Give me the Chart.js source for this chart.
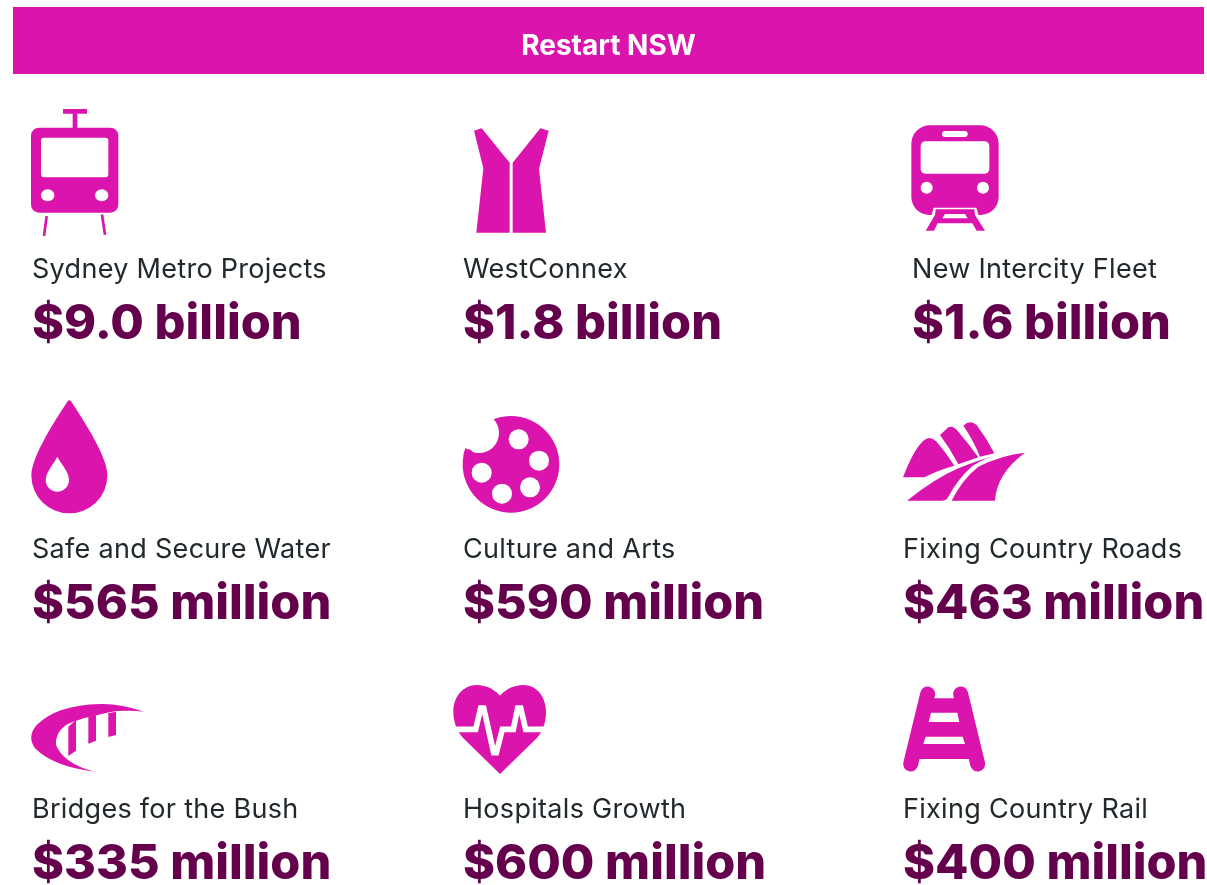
<!DOCTYPE html>
<html>
<head>
<meta charset="utf-8">
<title>Restart NSW</title>
<script src="https://cdn.jsdelivr.net/npm/chart.js@4/dist/chart.umd.min.js"></script>
<style>
  html, body { margin: 0; padding: 0; background: #fff; }
  canvas { display: block; }
</style>
</head>
<body>
<canvas id="restart" width="1207" height="885"></canvas>
<script>
const chartTitle = 'Restart NSW';
const projects = ['Sydney Metro Projects', 'WestConnex', 'New Intercity Fleet',
  'Safe and Secure Water', 'Culture and Arts', 'Fixing Country Roads',
  'Bridges for the Bush', 'Hospitals Growth', 'Fixing Country Rail'];
// $ million
const funding = [9000, 1800, 1600, 565, 590, 463, 335, 600, 400];
const columns = [0, 1, 2, 0, 1, 2, 0, 1, 2];
const rows = [0, 0, 0, 1, 1, 1, 2, 2, 2];

const PINK = '#db14ad';
const PLUM = '#65004d';
const INK = '#22292d';
const FONT = 'Inter, "Noto Sans", sans-serif';

// scale layout: pixel position of column 0 / row 0 and the distance between them
const COL0 = 32, COL_STEP = 435, ROW0 = 268, ROW_STEP = 270;
const AREA_LEFT = 10, AREA_TOP = 74;
// labels do not sit exactly on the even grid
const labelNudgeX = [0, -4, 10, 0, -4, 1, 0, -4, 1];
const labelNudgeY = [0, 0, 0, 10, 10, 10, 0, 0, 0];

function money(v) {
  return v >= 1000 ? '$' + (v / 1000).toFixed(1) + ' billion' : '$' + v + ' million';
}

function poly(c, pts, fill) {
  c.fillStyle = fill;
  c.beginPath();
  pts.forEach((p, i) => i ? c.lineTo(p[0], p[1]) : c.moveTo(p[0], p[1]));
  c.closePath();
  c.fill();
}
function box(c, x0, y0, x1, y1, r, fill) {
  c.fillStyle = fill;
  c.beginPath();
  c.roundRect(x0, y0, x1 - x0, y1 - y0, r);
  c.fill();
}
function disc(c, x, y, rx, ry, fill) {
  c.fillStyle = fill;
  c.beginPath();
  c.ellipse(x, y, rx, ry, 0, 0, Math.PI * 2);
  c.fill();
}

// icon shapes, each one traced in 3x coordinates of a crop starting at [cropX, cropY]
const icons = [
  { crop: [0, 90], paint(c) {
    box(c, 93, 113, 355, 368, 24, PINK);
    box(c, 123, 143, 325, 262, 9, '#fff');
    disc(c, 143, 316, 20, 18, '#fff');
    disc(c, 305, 316, 20, 18, '#fff');
    box(c, 189, 57, 261, 71, 1, PINK);
    box(c, 218, 70, 232, 114, 0, PINK);
    poly(c, [[136, 378], [144, 379], [136, 438], [128, 437]], PINK);
    poly(c, [[302, 374], [310, 373], [319, 434], [311, 435]], PINK);
  } },
  { crop: [450, 100], paint(c) {
    poly(c, [[72, 92], [95, 85], [179, 188], [179, 398], [79, 398], [100, 205]], PINK);
    poly(c, [[188, 188], [271, 85], [296, 92], [267, 207], [288, 398], [188, 398]], PINK);
  } },
  { crop: [895, 110], paint(c) {
    box(c, 49, 46, 311, 315, 55, PINK);
    box(c, 141, 63, 218, 81, 9, '#fff');
    box(c, 77, 94, 283, 191, 14, '#fff');
    disc(c, 95, 233, 18, 18, '#fff');
    disc(c, 264, 233, 18, 18, '#fff');
    poly(c, [[108, 320], [116, 293], [244, 293], [252, 320]], '#fff');
    poly(c, [[122, 298], [238, 298], [240, 315], [270, 362], [245, 362], [232, 340], [128, 340], [117, 362], [92, 362], [120, 315]], PINK);
    poly(c, [[150, 312], [210, 312], [218, 325], [142, 325]], '#fff');
  } },
  { crop: [20, 390], paint(c) {
    c.fillStyle = PINK;
    c.beginPath();
    c.moveTo(143, 34);
    c.quadraticCurveTo(148, 28, 153, 34);
    c.bezierCurveTo(190, 90, 262, 200, 262, 256);
    c.arc(148, 256, 114, 0, Math.PI);
    c.bezierCurveTo(34, 200, 106, 90, 143, 34);
    c.fill();
    c.fillStyle = '#fff';
    c.beginPath();
    c.moveTo(112, 200);
    c.bezierCurveTo(125, 225, 147, 245, 147, 270);
    c.arc(112, 270, 35, 0, Math.PI);
    c.bezierCurveTo(78, 245, 99, 225, 112, 200);
    c.fill();
  } },
  { crop: [455, 405], paint(c) {
    disc(c, 168, 178, 145, 145, PINK);
    disc(c, 72, 84, 60, 60, '#fff');
    disc(c, 142, 51, 15, 15, PINK);
    disc(c, 40, 148, 14, 15, PINK);
    [[191, 103], [252, 167], [225, 247], [141, 266], [80, 203]].forEach(h => disc(c, h[0], h[1], 30, 30, '#fff'));
  } },
  { crop: [895, 410], paint(c) {
    c.fillStyle = PINK;
    c.fill(new Path2D('M24 202Q55 120 85 92Q105 75 125 95Q155 130 178 167Q130 180 88 202Z'));
    c.fill(new Path2D('M135 75L160 52Q175 46 190 65Q220 100 250 142L190 163Q165 115 135 75Z'));
    c.fill(new Path2D('M205 47Q225 28 245 45Q275 85 298 130L255 140Q235 90 205 47Z'));
    c.fill(new Path2D('M36 272Q120 205 190 175Q250 150 318 132Q270 143 232 168Q190 205 160 260Q155 272 140 272Z'));
    c.fill(new Path2D('M390 128Q320 135 250 170Q200 210 170 272L300 272Q305 190 390 128Z'));
  } },
  { crop: [20, 695], paint(c) {
    c.fillStyle = PINK;
    c.fill(new Path2D('M372 50Q300 25 240 27Q110 30 50 90Q20 125 45 160Q100 215 222 230Q130 205 108 150Q105 115 135 92Q170 70 290 48Q340 45 372 50Z'));
    poly(c, [[145, 95], [168, 75], [168, 167], [145, 183]], PINK);
    poly(c, [[205, 65], [228, 60], [228, 137], [205, 146]], PINK);
    poly(c, [[265, 55], [288, 50], [288, 120], [265, 126]], PINK);
  } },
  { crop: [445, 680], paint(c) {
    c.fillStyle = PINK;
    c.fill(new Path2D('M165 47C145 25 120 15 95 15C55 15 25 50 25 95C25 125 35 150 52 172L165 282L278 172C295 150 303 125 303 95C303 50 275 15 235 15C210 15 185 25 165 47Z'));
    c.strokeStyle = '#fff';
    c.lineWidth = 17;
    c.lineJoin = 'miter';
    c.beginPath();
    [[22, 148], [92, 148], [107, 84], [116, 84], [146, 218], [154, 218], [172, 148], [205, 148], [218, 84], [227, 84], [242, 148], [306, 148]]
      .forEach((p, i) => i ? c.lineTo(p[0], p[1]) : c.moveTo(p[0], p[1]));
    c.stroke();
  } },
  { crop: [895, 680], paint(c) {
    c.strokeStyle = PINK;
    c.lineWidth = 45;
    c.lineCap = 'round';
    c.beginPath();
    c.moveTo(98, 42); c.lineTo(47, 252);
    c.moveTo(197, 42); c.lineTo(248, 252);
    c.stroke();
    poly(c, [[94, 55], [201, 55], [246, 237], [49, 237]], PINK);
    poly(c, [[108, 98], [187, 98], [193, 126], [101, 126]], '#fff');
    poly(c, [[92, 170], [203, 170], [210, 192], [85, 192]], '#fff');
  } }
];

// each icon goes on its own canvas so it can be used as a pointStyle, centred on the grid point
function iconCanvas(icon, i) {
  const size = 400;
  const cv = document.createElement('canvas');
  cv.width = size;
  cv.height = size;
  const c = cv.getContext('2d');
  c.translate(size / 2 + icon.crop[0] - (COL0 + columns[i] * COL_STEP),
              size / 2 + icon.crop[1] - (ROW0 + rows[i] * ROW_STEP));
  c.scale(1 / 3, 1 / 3);
  icon.paint(c);
  return cv;
}

const bandPlugin = {
  id: 'band',
  beforeDraw(chart) {
    chart.ctx.save();
    chart.ctx.fillStyle = PINK;
    chart.ctx.fillRect(13, 7, 1191, 67);
    chart.ctx.restore();
  }
};

const labelPlugin = {
  id: 'projectLabels',
  afterDatasetsDraw(chart) {
    const ctx = chart.ctx;
    ctx.save();
    ctx.textAlign = 'left';
    ctx.textBaseline = 'alphabetic';
    chart.getDatasetMeta(0).data.forEach((pt, i) => {
      const x = pt.x + labelNudgeX[i];
      const y = pt.y + labelNudgeY[i];
      ctx.fillStyle = INK;
      ctx.font = '400 27px ' + FONT;
      ctx.letterSpacing = '0.3px';
      ctx.fillText(projects[i], x, y + 10);
      ctx.fillStyle = PLUM;
      ctx.font = '800 48.6px ' + FONT;
      ctx.letterSpacing = '0px';
      ctx.fillText(money(funding[i]), x, y + 71);
    });
    ctx.restore();
  }
};

const xMin = (AREA_LEFT - COL0) / COL_STEP;
const yMin = (AREA_TOP - ROW0) / ROW_STEP;

new Chart(document.getElementById('restart'), {
  type: 'scatter',
  data: {
    datasets: [{
      label: chartTitle,
      data: funding.map((v, i) => ({ x: columns[i], y: rows[i], funding: v })),
      pointStyle: icons.map(iconCanvas),
      pointRadius: 5,
      clip: false
    }]
  },
  options: {
    responsive: false,
    animation: false,
    events: [],
    layout: { autoPadding: false, padding: { left: AREA_LEFT } },
    scales: {
      x: { type: 'linear', display: false, min: xMin, max: xMin + (1207 - AREA_LEFT) / COL_STEP },
      y: { type: 'linear', display: false, reverse: true, min: yMin, max: yMin + (885 - AREA_TOP) / ROW_STEP }
    },
    plugins: {
      legend: { display: false },
      tooltip: { enabled: false },
      title: {
        display: true,
        text: chartTitle,
        color: '#fff',
        font: { family: FONT, size: 28, weight: '700', lineHeight: 1.2 },
        padding: { top: 29.4, bottom: 11 }
      }
    }
  },
  plugins: [bandPlugin, labelPlugin]
});
</script>
</body>
</html>
